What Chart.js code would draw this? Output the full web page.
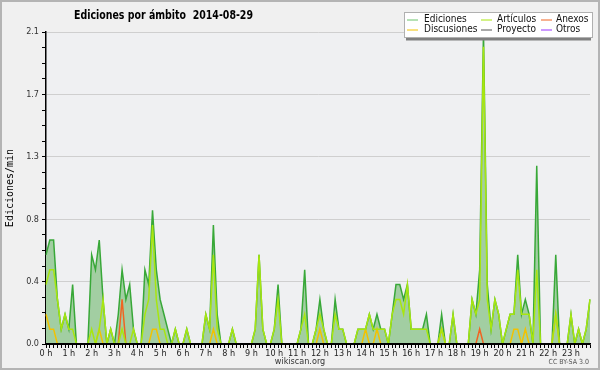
<!DOCTYPE html>
<html>
<head>
<meta charset="utf-8">
<script src="https://cdn.jsdelivr.net/npm/chart.js@4.4.1/dist/chart.umd.min.js"></script>
<style>
  html, body { margin: 0; padding: 0; background: #f0f0f0; }
  #wrap { width: 600px; height: 370px; position: relative; }
</style>
</head>
<body>
<div id="wrap"><canvas id="myChart"></canvas></div>
<script>
// hour tick labels, one every 6 slots of 10 minutes
const hours = ['0 h', '1 h', '2 h', '3 h', '4 h', '5 h', '6 h', '7 h', '8 h', '9 h', '10 h', '11 h',
  '12 h', '13 h', '14 h', '15 h', '16 h', '17 h', '18 h', '19 h', '20 h', '21 h', '22 h', '23 h'];
const yTickLabels = ['0.0', '0.4', '0.8', '1.3', '1.7', '2.1'];
const yMax = 2.1;

// edits per minute, 10 minute slots (6 per row = 1 hour)
const ediciones = [
  0.6, 0.7, 0.7, 0.3, 0.1, 0.2,
  0.1, 0.4, 0, 0, 0, 0,
  0.6, 0.5, 0.7, 0.3, 0, 0.1,
  0, 0.2, 0.5, 0.3, 0.4, 0.1,
  0, 0, 0.5, 0.4, 0.9, 0.5,
  0.3, 0.2, 0.1, 0, 0.1, 0,
  0, 0.1, 0, 0, 0, 0,
  0.2, 0.1, 0.8, 0.2, 0, 0,
  0, 0.1, 0, 0, 0, 0,
  0, 0.1, 0.6, 0.1, 0, 0,
  0.1, 0.4, 0, 0, 0, 0,
  0, 0.1, 0.5, 0, 0, 0.1,
  0.3, 0.1, 0, 0, 0.3, 0.1,
  0.1, 0, 0, 0, 0.1, 0.1,
  0.1, 0.2, 0.1, 0.2, 0.1, 0.1,
  0, 0.2, 0.4, 0.4, 0.3, 0.4,
  0.1, 0.1, 0.1, 0.1, 0.2, 0,
  0, 0, 0.2, 0, 0, 0.2,
  0, 0, 0, 0, 0.3, 0.2,
  0.5, 2.1, 0.4, 0.1, 0.3, 0.2,
  0, 0.1, 0.2, 0.2, 0.6, 0.2,
  0.3, 0.2, 0, 1.2, 0, 0,
  0, 0, 0.6, 0, 0, 0,
  0.2, 0, 0.1, 0, 0.1, 0.3
];
const articulos = [
  0.4, 0.5, 0.5, 0.3, 0.1, 0.2,
  0.1, 0.1, 0, 0, 0, 0,
  0.1, 0, 0.1, 0.3, 0, 0.1,
  0, 0, 0.1, 0, 0, 0.1,
  0, 0, 0.2, 0.3, 0.8, 0.3,
  0.1, 0.1, 0, 0, 0.1, 0,
  0, 0.1, 0, 0, 0, 0,
  0.2, 0.1, 0.6, 0.1, 0, 0,
  0, 0.1, 0, 0, 0, 0,
  0, 0.1, 0.6, 0.1, 0, 0,
  0.1, 0.3, 0, 0, 0, 0,
  0, 0.1, 0.2, 0, 0, 0.1,
  0.2, 0.1, 0, 0, 0.2, 0.1,
  0.1, 0, 0, 0, 0.1, 0.1,
  0.1, 0.2, 0.1, 0.1, 0.1, 0.1,
  0, 0.2, 0.3, 0.3, 0.2, 0.4,
  0.1, 0.1, 0.1, 0.1, 0.1, 0,
  0, 0, 0.1, 0, 0, 0.2,
  0, 0, 0, 0, 0.3, 0.2,
  0.3, 2.0, 0.3, 0.1, 0.3, 0.2,
  0, 0.1, 0.2, 0.2, 0.5, 0.2,
  0.2, 0.2, 0, 0.5, 0, 0,
  0, 0, 0.2, 0, 0, 0,
  0.2, 0, 0.1, 0, 0.1, 0.3
];
const anexos = [
  0, 0, 0, 0, 0, 0,  0, 0, 0, 0, 0, 0,  0, 0, 0, 0, 0, 0,  0, 0, 0.3, 0, 0, 0,
  0, 0, 0, 0, 0, 0,  0, 0, 0, 0, 0, 0,  0, 0, 0, 0, 0, 0,  0, 0, 0, 0, 0, 0,
  0, 0, 0, 0, 0, 0,  0, 0, 0, 0, 0, 0,  0, 0, 0, 0, 0, 0,  0, 0, 0, 0, 0, 0,
  0, 0, 0, 0, 0, 0,  0, 0, 0, 0, 0, 0,  0, 0, 0, 0, 0, 0,  0, 0, 0, 0, 0, 0,
  0, 0, 0, 0, 0, 0,  0, 0, 0, 0, 0, 0,  0, 0, 0, 0, 0, 0,  0.1, 0, 0, 0, 0, 0,
  0, 0, 0, 0, 0, 0,  0, 0, 0, 0, 0, 0,  0, 0, 0, 0, 0, 0,  0, 0, 0, 0, 0, 0
];
const discusiones = [
  0.2, 0.1, 0.1, 0, 0, 0,  0, 0, 0, 0, 0, 0,  0, 0, 0.1, 0, 0, 0,  0, 0, 0, 0, 0, 0,
  0, 0, 0, 0, 0.1, 0.1,  0, 0, 0, 0, 0, 0,  0, 0, 0, 0, 0, 0,  0, 0, 0.1, 0, 0, 0,
  0, 0, 0, 0, 0, 0,  0, 0, 0, 0, 0, 0,  0, 0, 0, 0, 0, 0,  0, 0, 0, 0, 0, 0,
  0.1, 0, 0, 0, 0, 0,  0, 0, 0, 0, 0, 0,  0.1, 0, 0, 0.1, 0, 0,  0, 0, 0, 0, 0, 0,
  0, 0, 0, 0, 0, 0,  0, 0, 0.1, 0, 0, 0,  0, 0, 0, 0, 0, 0,  0, 0, 0, 0, 0, 0,
  0, 0, 0, 0.1, 0.1, 0,  0.1, 0, 0, 0, 0, 0,  0, 0, 0.2, 0, 0, 0,  0, 0, 0, 0, 0, 0
];
const proyecto = [
  0, 0, 0, 0, 0, 0,  0, 0, 0, 0, 0, 0,  0, 0, 0, 0, 0, 0,  0, 0, 0, 0, 0, 0,
  0, 0, 0, 0, 0, 0,  0, 0, 0, 0, 0, 0,  0, 0, 0, 0, 0, 0,  0, 0, 0, 0, 0, 0,
  0, 0, 0, 0, 0, 0,  0, 0, 0, 0, 0, 0,  0, 0, 0, 0, 0, 0,  0, 0, 0, 0, 0, 0,
  0, 0, 0, 0, 0, 0,  0, 0, 0, 0, 0, 0,  0, 0, 0, 0, 0, 0,  0, 0, 0, 0, 0, 0,
  0, 0, 0, 0, 0, 0,  0, 0, 0, 0, 0, 0,  0, 0, 0, 0, 0, 0,  0, 0, 0, 0, 0, 0,
  0, 0, 0, 0, 0, 0,  0, 0, 0, 0, 0, 0,  0, 0, 0, 0, 0, 0,  0, 0, 0, 0, 0, 0
];
const otros = [
  0, 0, 0, 0, 0, 0,  0, 0, 0, 0, 0, 0,  0, 0, 0, 0, 0, 0,  0, 0, 0, 0, 0, 0,
  0, 0, 0, 0, 0, 0,  0, 0, 0, 0, 0, 0,  0, 0, 0, 0, 0, 0,  0, 0, 0, 0, 0, 0,
  0, 0, 0, 0, 0, 0,  0, 0, 0, 0, 0, 0,  0, 0, 0, 0, 0, 0,  0, 0, 0, 0, 0, 0,
  0, 0, 0, 0, 0, 0,  0, 0, 0, 0, 0, 0,  0, 0, 0, 0, 0, 0,  0, 0, 0, 0, 0, 0,
  0, 0, 0, 0, 0, 0,  0, 0, 0, 0, 0, 0,  0, 0, 0, 0, 0, 0,  0, 0, 0, 0, 0, 0,
  0, 0, 0, 0, 0, 0,  0, 0, 0, 0, 0, 0,  0, 0, 0, 0, 0, 0,  0, 0, 0, 0, 0, 0
];

// one category per 10 min slot, hour name on the first slot of each hour
const slots = hours.flatMap(h => [h, '', '', '', '', '']);

const condensed = "'DejaVu Sans Condensed', 'DejaVu Sans', sans-serif";

function fitText(ctx, text, x, y, width) {
    const w = ctx.measureText(text).width;
    ctx.save();
    ctx.translate(x, y);
    ctx.scale(width / w, 1);
    ctx.fillText(text, 0, 0);
    ctx.restore();
}

// background, frame, legend, title and footer
const decor = {
    id: 'decor',
    beforeDraw(chart) {
        const c = chart.ctx, a = chart.chartArea;
        c.save();
        c.fillStyle = '#f0f0f0';
        c.fillRect(0, 0, chart.width, chart.height);
        c.fillStyle = '#eff0f2';
        c.fillRect(a.left, a.top, a.right - a.left, a.bottom - a.top);
        c.strokeStyle = '#b4b4b4';
        c.lineWidth = 2;
        c.strokeRect(1, 1, chart.width - 2, chart.height - 2);
        c.restore();
    },
    afterDatasetsDraw(chart) {
        const c = chart.ctx, a = chart.chartArea;
        c.save();
        c.strokeStyle = '#000';
        c.lineWidth = 2;
        c.beginPath();
        c.moveTo(a.left, a.bottom);
        c.lineTo(a.right, a.bottom);
        c.stroke();
        c.restore();
    },
    afterDraw(chart) {
        const c = chart.ctx;
        c.save();
        // title
        c.fillStyle = '#000';
        c.font = "bold 13px 'DejaVu Sans'";
        c.textBaseline = 'alphabetic';
        fitText(c, 'Ediciones por ámbito  2014-08-29', 74, 18.5, 179);

        // legend
        c.fillStyle = '#808080';
        c.fillRect(406, 38, 185, 2.5);
        c.fillStyle = '#fff';
        c.fillRect(404, 12, 189, 26);
        c.strokeStyle = '#b0b0b0';
        c.lineWidth = 1;
        c.strokeRect(404.5, 12.5, 188, 25);
        const lineX = [407, 481, 541];
        const textX = [424, 497, 556];
        const rowY = [19.5, 29.5];
        c.font = '10px ' + condensed;
        c.textBaseline = 'middle';
        chart.data.datasets.forEach((ds, k) => {
            const col = k % 3, row = Math.floor(k / 3);
            c.strokeStyle = ds.legendColor || ds.borderColor;
            c.lineWidth = 1;
            c.beginPath();
            c.moveTo(lineX[col], rowY[row] + 0.5);
            c.lineTo(lineX[col] + 11, rowY[row] + 0.5);
            c.stroke();
            c.fillStyle = '#111';
            c.fillText(ds.label, textX[col], rowY[row]);
        });

        // footer
        c.textBaseline = 'alphabetic';
        c.fillStyle = '#333';
        c.font = '9px ' + condensed;
        c.textAlign = 'center';
        c.fillText('wikiscan.org', 300, 364);
        c.textAlign = 'right';
        c.fillStyle = '#555';
        c.font = '7px ' + condensed;
        c.fillText('CC BY-SA 3.0', 589, 364);
        c.restore();
    }
};

const ctx = document.getElementById('myChart');
new Chart(ctx, {
    type: 'line',
    data: {
        labels: slots,
        datasets: [
            { label: 'Ediciones', data: ediciones, borderColor: '#38a838', legendColor: '#6cc46c',
              backgroundColor: '#a2cea2', fill: 'origin', order: 1 },
            { label: 'Artículos', data: articulos, borderColor: '#a8e60f', backgroundColor: '#a8e60f', order: 0 },
            { label: 'Anexos', data: anexos, borderColor: '#f06422', backgroundColor: '#f06422', order: 0 },
            { label: 'Discusiones', data: discusiones, borderColor: '#f2c200', backgroundColor: '#f2c200', order: 0 },
            { label: 'Proyecto', data: proyecto, borderColor: '#555555', backgroundColor: '#555555', order: 0 },
            { label: 'Otros', data: otros, borderColor: '#9933ff', backgroundColor: '#9933ff', order: 0 }
        ]
    },
    options: {
        responsive: true,
        maintainAspectRatio: false,
        animation: false,
        layout: { padding: { top: 32, right: 10, left: 0, bottom: 0 } },
        elements: {
            point: { radius: 0 },
            line: { tension: 0, borderWidth: 1.5 }
        },
        plugins: {
            legend: { display: false },
            tooltip: { enabled: false }
        },
        scales: {
            x: {
                offset: false,
                border: { color: '#000', width: 1.5 },
                grid: { drawOnChartArea: false, tickLength: 4, color: '#000', tickColor: '#000' },
                ticks: {
                    autoSkip: false, maxRotation: 0, minRotation: 0, padding: 0,
                    color: '#222', font: { family: condensed, size: 9 },
                    callback: (v, i) => slots[i]
                },
                afterFit: s => { s.height = 26; }
            },
            y: {
                min: 0,
                max: yMax,
                afterBuildTicks: s => {
                    s.ticks = Array.from({ length: 21 }, (_, k) => ({ value: k * yMax / 20 }));
                },
                border: { color: '#000', width: 1.5 },
                grid: {
                    tickLength: 4,
                    tickColor: '#000',
                    color: c => (c.index % 4 === 0 && c.index > 0) ? '#cfcfcf' : 'rgba(0,0,0,0)'
                },
                ticks: {
                    padding: 3, color: '#333', font: { family: condensed, size: 9 },
                    callback: (v, i) => i % 4 === 0 ? yTickLabels[i / 4] : ''
                },
                title: {
                    display: true, text: 'Ediciones/min', color: '#000',
                    font: { family: "'DejaVu Sans Mono', monospace", size: 10 },
                    padding: { top: 4, bottom: 0 }
                },
                afterFit: s => { s.width = 46; }
            }
        }
    },
    plugins: [decor]
});
</script>
</body>
</html>
